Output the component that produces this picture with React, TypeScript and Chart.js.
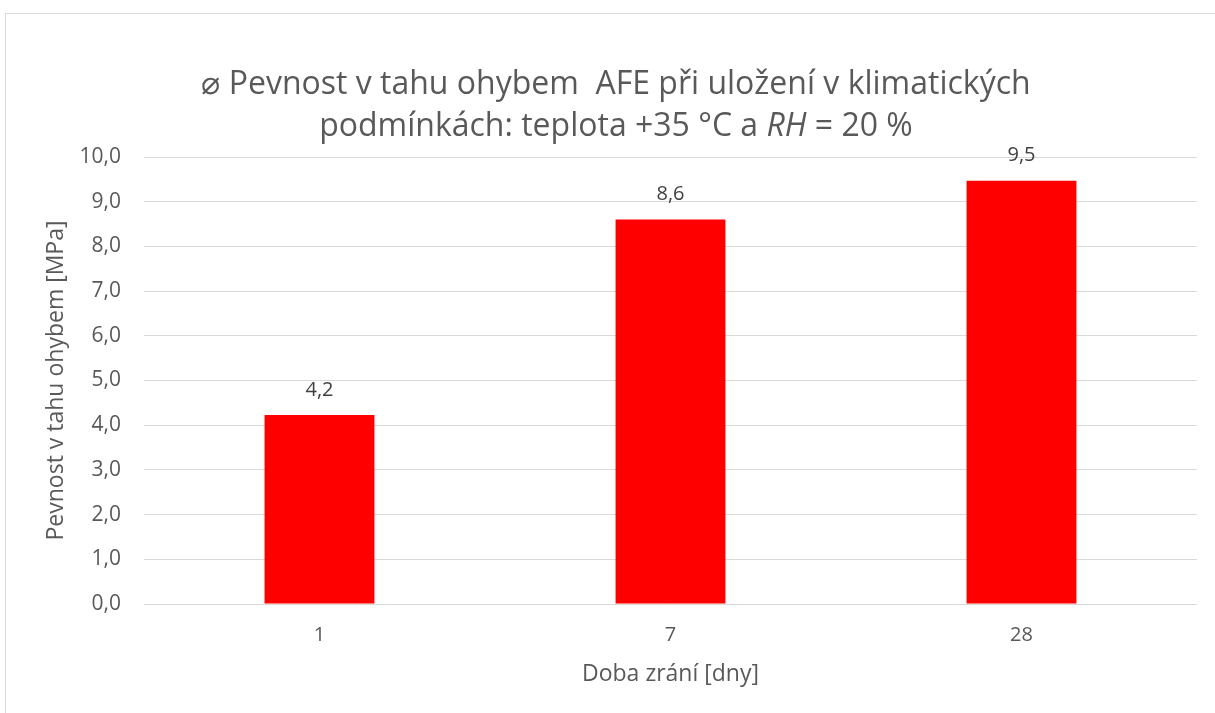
import React, { useEffect, useRef } from "react";
import { Chart, registerables } from "chart.js";

Chart.register(...registerables);

// ---- data ----
const categories: string[] = ["1", "7", "28"];
const strengthValues: number[] = [4.23, 8.6, 9.47];
const valueLabels: string[] = ["4,2", "8,6", "9,5"];
const yTickValues: number[] = [0, 1, 2, 3, 4, 5, 6, 7, 8, 9, 10];
const titleLine1: string = "\u2300 Pevnost v tahu ohybem  AFE při uložení v klimatických";
const titleLine2Runs: { text: string; italic: boolean }[] = [
  { text: "podmínkách: teplota +35 °C a ", italic: false },
  { text: "RH", italic: true },
  { text: " = 20 %", italic: false },
];
const xAxisTitle = "Doba zrání [dny]";
const yAxisTitle = "Pevnost v tahu ohybem [MPa]";

const FONT = "'Open Sans', sans-serif";
const TEXT = "#595959";
const GRID = "#d9d9d9";

const fmt = (v: number) => v.toFixed(1).replace(".", ",");

const titlePlugin = {
  id: "customTitle",
  afterDraw(chart: any) {
    const ctx = chart.ctx;
    ctx.save();
    ctx.fillStyle = TEXT;
    ctx.textBaseline = "alphabetic";
    ctx.textAlign = "left";
    const size = 32;
    const normal = `${size}px ${FONT}`;
    const italic = `italic ${size}px ${FONT}`;
    const cx = 616;
    // line 1
    ctx.font = normal;
    const w1 = ctx.measureText(titleLine1).width;
    ctx.fillText(titleLine1, cx - w1 / 2, 94);
    // line 2
    let total = 0;
    for (const r of titleLine2Runs) {
      ctx.font = r.italic ? italic : normal;
      total += ctx.measureText(r.text).width;
    }
    let x = cx - total / 2;
    for (const r of titleLine2Runs) {
      ctx.font = r.italic ? italic : normal;
      ctx.fillText(r.text, x, 136);
      x += ctx.measureText(r.text).width;
    }
    ctx.restore();
  },
};

const labelPlugin = {
  id: "valueLabels",
  afterDatasetsDraw(chart: any) {
    const ctx = chart.ctx;
    const meta = chart.getDatasetMeta(0);
    ctx.save();
    ctx.font = `20px ${FONT}`;
    ctx.fillStyle = "#404040";
    ctx.textAlign = "center";
    ctx.textBaseline = "middle";
    meta.data.forEach((bar: any, i: number) => {
      ctx.fillText(valueLabels[i], bar.x, bar.y - 25);
    });
    ctx.restore();
  },
};

export default function App() {
  const canvasRef = useRef<HTMLCanvasElement | null>(null);

  useEffect(() => {
    document.body.style.margin = "0";
    document.body.style.background = "#ffffff";
    const canvas = canvasRef.current;
    if (!canvas) return;
    const chart = new Chart(canvas, {
      type: "bar",
      data: {
        labels: categories,
        datasets: [
          {
            data: strengthValues,
            backgroundColor: "#ff0000",
            borderWidth: 0,
            barPercentage: 0.313,
            categoryPercentage: 1,
          },
        ],
      },
      options: {
        responsive: false,
        animation: false,
        layout: { padding: { left: 0, top: 157, right: 18, bottom: 0 } },
        plugins: {
          legend: { display: false },
          title: { display: false },
          tooltip: { enabled: false },
        },
        scales: {
          x: {
            grid: { display: false, drawTicks: false },
            border: { display: false },
            ticks: {
              color: TEXT,
              font: { family: FONT, size: 20 },
              padding: 19,
            },
            title: {
              display: true,
              text: xAxisTitle,
              color: TEXT,
              font: { family: FONT, size: 23 },
              padding: { top: 0, bottom: 25 },
            },
            afterFit(scale: any) {
              scale.height = 109;
            },
          },
          y: {
            min: 0,
            max: 10,
            afterBuildTicks(scale: any) {
              scale.ticks = yTickValues.map((v) => ({ value: v }));
            },
            grid: { color: GRID, lineWidth: 1, drawTicks: false },
            border: { display: false },
            ticks: {
              color: TEXT,
              font: { family: FONT, size: 21 },
              padding: 23,
              callback: (v: any) => fmt(Number(v)),
            },
            title: {
              display: true,
              text: yAxisTitle,
              color: TEXT,
              font: { family: FONT, size: 23 },
              padding: { top: 43, bottom: 0 },
            },
            afterFit(scale: any) {
              scale.width = 144;
            },
          },
        },
      },
      plugins: [titlePlugin, labelPlugin],
    });
    return () => chart.destroy();
  }, []);

  return (
    <div style={{ position: "fixed", left: 0, top: 0, width: 1215, height: 713, overflow: "hidden", background: "#fff" }}>
      <div
        style={{
          position: "absolute",
          left: 5,
          top: 13,
          width: 1400,
          height: 900,
          border: `1px solid ${GRID}`,
          boxSizing: "border-box",
        }}
      />
      <canvas
        ref={canvasRef}
        width={1215}
        height={713}
        style={{ position: "absolute", left: 0, top: 0, width: 1215, height: 713 }}
      />
    </div>
  );
}
